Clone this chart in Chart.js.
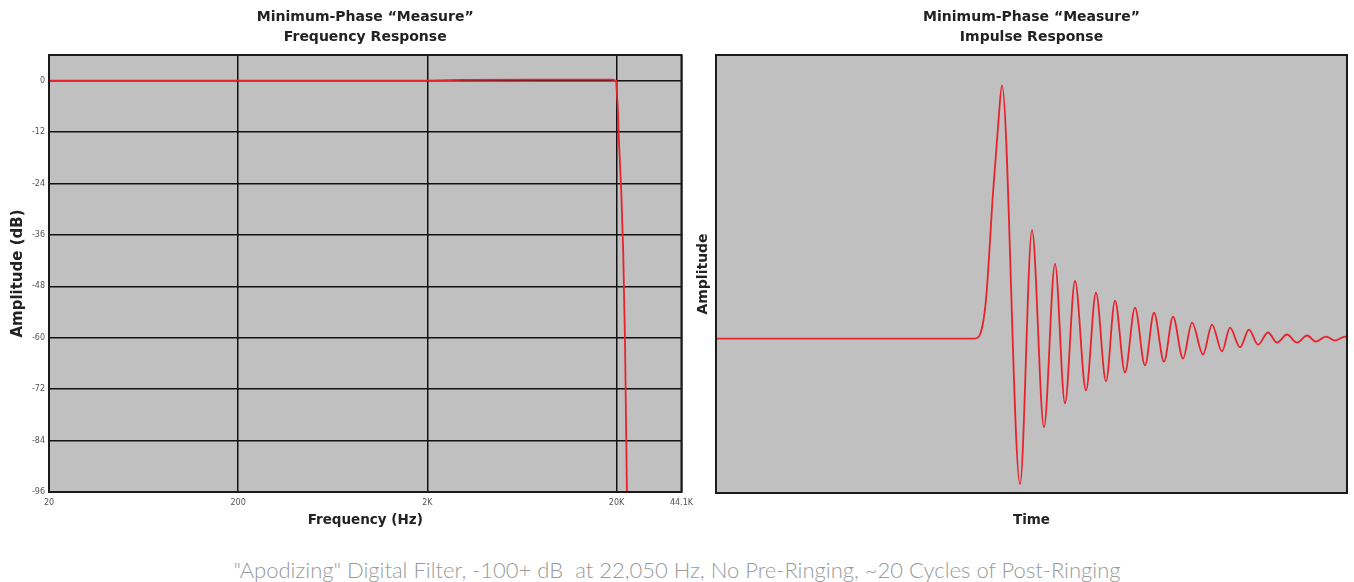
<!DOCTYPE html>
<html>
<head>
<meta charset="utf-8">
<script src="https://cdn.jsdelivr.net/npm/chart.js@4"></script>
<style>
  html, body { margin: 0; padding: 0; background: #fff; }
  body { width: 1354px; height: 582px; position: relative; overflow: hidden; }
  #freqChart { position: absolute; left: 0; top: 0; }
  #impulseChart { position: absolute; left: 690px; top: 0; }
  .caption {
    position: absolute; left: 0; top: 556px; width: 1354px;
    text-align: center; color: #9a9a9a;
    font: 300 22px Lato, sans-serif; white-space: nowrap;
  }
</style>
</head>
<body>
<canvas id="freqChart" width="699" height="540"></canvas>
<canvas id="impulseChart" width="664" height="540"></canvas>
<div class="caption">"Apodizing" Digital Filter, -100+ dB&nbsp; at 22,050 Hz, No Pre-Ringing, ~20 Cycles of Post-Ringing</div>
<script>
// frequency response
const freqHz    = [20, 200, 2000, 3000, 8000, 19000, 19900, 20300, 20600, 21200, 21700, 22200, 22700, 22900];
const freqAmpDb = [0, 0, 0, 0.2, 0.25, 0.25, 0, -6, -14, -26, -40, -62, -96, -104];
const freqTicks = [20, 200, 2000, 20000, 44100];
const freqTickLabels = ["20", "200", "2K", "20K", "44.1K"];
const dbTicks = [-96, -84, -72, -60, -48, -36, -24, -12, 0];

// impulse response: time in arbitrary units, amplitude normalised to the main peak
const timeIdx = [0, 259, 264, 270, 277, 282, 286, 304, 316, 328, 339, 349, 359, 370, 380, 390,
  399, 409, 419, 429, 438, 448, 457, 467, 476, 487, 496, 506, 514, 524, 533, 542, 552, 561,
  571, 581, 591, 600, 610, 619, 629, 631];
const impulseAmp = [0, 0, 0.016, 0.154, 0.575, 0.835, 1.0, -0.575, 0.429, -0.35, 0.295, -0.256,
  0.228, -0.205, 0.181, -0.169, 0.15, -0.134, 0.122, -0.106, 0.102, -0.091, 0.087, -0.079, 0.063,
  -0.063, 0.055, -0.051, 0.043, -0.035, 0.035, -0.024, 0.024, -0.016, 0.016, -0.016, 0.012,
  -0.012, 0.008, -0.008, 0.008, 0.004];

const RED = "#e8222b";
const INK = "#222";
const TICK_FONT = { family: "DejaVu Sans", size: 8 };
const LABEL_FONT = { family: "DejaVu Sans", size: 13.5, weight: "bold" };

Chart.defaults.font.family = "DejaVu Sans";
Chart.defaults.animation = false;

// grey plot background + black frame
const plotFrame = {
  id: "plotFrame",
  beforeDraw(chart) {
    const { ctx, chartArea: a } = chart;
    ctx.save();
    ctx.fillStyle = "#c0c0c0";
    ctx.fillRect(a.left, a.top, a.right - a.left, a.bottom - a.top);
    ctx.restore();
  },
  afterDraw(chart) {
    const { ctx, chartArea: a } = chart;
    ctx.save();
    ctx.strokeStyle = "#1a1a1a";
    ctx.lineWidth = 2;
    ctx.strokeRect(a.left, a.top, a.right - a.left, a.bottom - a.top);
    ctx.restore();
  },
};

function chartTitle(second) {
  return {
    display: true,
    text: ["Minimum-Phase \u201cMeasure\u201d", second],
    fullSize: false,
    color: INK,
    font: { family: "DejaVu Sans", size: 14, weight: "bold", lineHeight: "20px" },
    padding: { top: 7, bottom: 8 },
  };
}

new Chart(document.getElementById("freqChart"), {
  type: "line",
  data: {
    datasets: [{
      data: freqHz.map((f, i) => ({ x: f, y: freqAmpDb[i] })),
      borderColor: RED,
      borderWidth: 1.8,
      pointRadius: 0,
      tension: 0,
    }],
  },
  options: {
    responsive: false,
    layout: { padding: { left: 0, right: 13, top: 0, bottom: 0 } },
    plugins: {
      legend: { display: false },
      tooltip: { enabled: false },
      title: chartTitle("Frequency Response"),
    },
    scales: {
      x: {
        type: "logarithmic",
        min: 20,
        max: 44100,
        afterBuildTicks: s => { s.ticks = freqTicks.map(v => ({ value: v })); },
        afterFit: s => { s.height = 48; },
        grid: { color: "#111", lineWidth: 1.5, drawTicks: false },
        border: { display: false },
        ticks: {
          autoSkip: false, maxRotation: 0, color: "#555", font: TICK_FONT, padding: 6,
          callback: (v, i) => freqTickLabels[i],
        },
        title: { display: true, text: "Frequency (Hz)", color: INK, font: LABEL_FONT, padding: { top: 0, bottom: 11 } },
      },
      y: {
        min: -96,
        max: 6,
        afterBuildTicks: s => { s.ticks = dbTicks.map(v => ({ value: v })); },
        afterFit: s => { s.width = 49; },
        grid: { color: "#111", lineWidth: 1.5, drawTicks: false },
        border: { display: false },
        ticks: { color: "#555", font: TICK_FONT, padding: 4, callback: v => String(v) },
        title: { display: true, text: "Amplitude (dB)", color: INK, font: { ...LABEL_FONT, size: 15 }, padding: { top: 9, bottom: 0 } },
      },
    },
  },
  plugins: [plotFrame],
});

new Chart(document.getElementById("impulseChart"), {
  type: "line",
  data: {
    datasets: [{
      data: timeIdx.map((t, i) => ({ x: t, y: impulseAmp[i] })),
      borderColor: RED,
      borderWidth: 1.8,
      pointRadius: 0,
      cubicInterpolationMode: "monotone",
    }],
  },
  options: {
    responsive: false,
    layout: { padding: { left: 0, right: 7, top: 0, bottom: 0 } },
    plugins: {
      legend: { display: false },
      tooltip: { enabled: false },
      title: chartTitle("Impulse Response"),
    },
    scales: {
      x: {
        type: "linear",
        min: 0,
        max: 631,
        afterFit: s => { s.height = 47; },
        grid: { display: false },
        border: { display: false },
        ticks: { display: false },
        title: { display: true, text: "Time", color: INK, font: LABEL_FONT, padding: { top: 0, bottom: 11 } },
      },
      y: {
        min: -0.61,
        max: 1.12,
        afterFit: s => { s.width = 26; },
        grid: { display: false },
        border: { display: false },
        ticks: { display: false },
        title: { display: true, text: "Amplitude", color: INK, font: { ...LABEL_FONT, size: 14 }, padding: { top: 5, bottom: 0 } },
      },
    },
  },
  plugins: [plotFrame],
});
</script>
</body>
</html>
